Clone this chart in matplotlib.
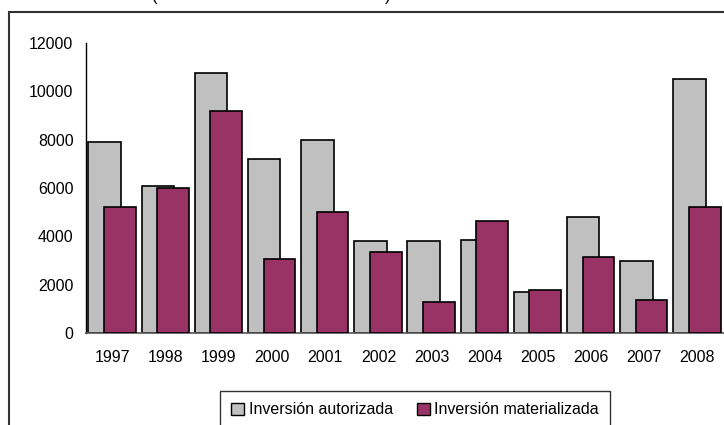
import matplotlib
matplotlib.use("Agg")
from matplotlib import pyplot as plt
from matplotlib.patches import Rectangle, Patch
import numpy as np

plt.rcParams['font.family'] = ['Liberation Sans', 'DejaVu Sans']

# data
years = ['1997', '1998', '1999', '2000', '2001', '2002',
         '2003', '2004', '2005', '2006', '2007', '2008']
autorizada = [7900, 6100, 10750, 7200, 8000, 3800, 3800, 3850, 1680, 4780, 2980, 10500]
materializada = [5200, 6020, 9200, 3050, 5000, 3350, 1300, 4650, 1790, 3150, 1350, 5200]
series_names = ['Inversión autorizada', 'Inversión materializada']

grey = '#c0c0c0'
maroon = '#993366'

fig = plt.figure(figsize=(7.24, 4.25), dpi=100)
ax = fig.add_axes([86 / 724, 92 / 425, 638 / 724, 290 / 425])

x = np.arange(len(years))
ax.bar(x - 0.5 + 0.047, autorizada, width=0.61, align='edge',
       color=grey, edgecolor='black', linewidth=1.2, zorder=2)
ax.bar(x - 0.5 + 0.34, materializada, width=0.595, align='edge',
       color=maroon, edgecolor='black', linewidth=1.2, zorder=3)

ax.set_xlim(-0.5, len(years) - 0.5)
ax.set_ylim(0, 12000)
ax.set_yticks(range(0, 12001, 2000))
ax.set_xticks(x)
ax.set_xticklabels(years)
ax.tick_params(axis='both', length=0, labelsize=11.5)
ax.tick_params(axis='y', pad=9)
ax.tick_params(axis='x', pad=12)
for s in ['top', 'right']:
    ax.spines[s].set_visible(False)
ax.spines['left'].set_linewidth(1.0)
ax.spines['bottom'].set_linewidth(1.2)
ax.spines['bottom'].set_color('#555555')

# outer chart frame (runs off the right and bottom edges)
fig.patches.append(Rectangle((9 / 724, -0.2), 1.2, 1.2 - 12 / 425,
                             transform=fig.transFigure, fill=False,
                             edgecolor='#333333', linewidth=1.5))

# title mostly cut off at the top
fig.text(152 / 724, 1 - 1 / 425, '(', fontsize=12, va='baseline', ha='left')
fig.text(385 / 724, 1 - 1 / 425, ')', fontsize=12, va='baseline', ha='left')

handles = [Patch(facecolor=grey, edgecolor='black', linewidth=1.0),
           Patch(facecolor=maroon, edgecolor='black', linewidth=1.0)]
leg = fig.legend(handles, series_names, loc='upper left',
                 bbox_to_anchor=(220 / 724, 1 - 391 / 425), ncol=2,
                 fontsize=11.5, frameon=True, fancybox=False, borderaxespad=0,
                 handlelength=0.8, handleheight=0.8, handletextpad=0.3,
                 columnspacing=1.5, borderpad=0.7)
leg.get_frame().set_edgecolor('black')
leg.get_frame().set_linewidth(1.0)

fig.savefig('out.png', dpi=100)
